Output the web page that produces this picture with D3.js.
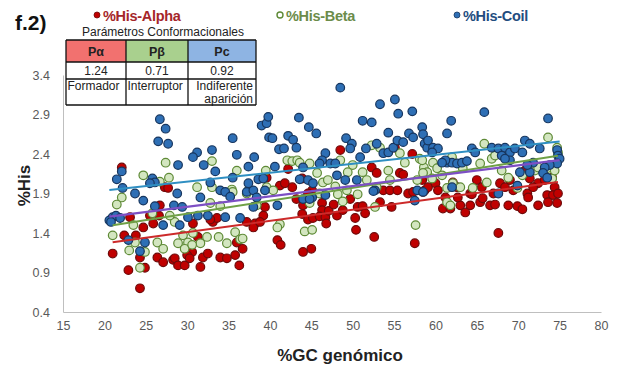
<!DOCTYPE html>
<html>
<head>
<meta charset="utf-8">
<script src="https://cdn.jsdelivr.net/npm/d3@7"></script>
<style>
  html, body { margin: 0; padding: 0; background: #fff; }
  svg { display: block; font-family: "Liberation Sans", Arial, sans-serif; }
</style>
</head>
<body>
<svg id="chart" width="622" height="370"></svg>
<script>
// Axis ticks
const xTicks = [15, 20, 25, 30, 35, 40, 45, 50, 55, 60, 65, 70, 75, 80];
const yTicks = [0.4, 0.9, 1.4, 1.9, 2.4, 2.9, 3.4];

// Legend / series names
const seriesNames = ["%His-Alpha", "%His-Beta", "%His-Coil"];

// Conformational parameter table
const tableHeaders = ["Pα", "Pβ", "Pc"];
const tableValues = ["1.24", "0.71", "0.92"];
const tableRoles = [["Formador"], ["Interruptor"], ["Indiferente", "aparición"]];

// [%GC genómico, %His] per organism
const alphaPoints = [
  [22.1,2.23],[27.3,1.98],[27.7,1.97],[21.0,1.14],[22.9,0.93],[24.3,0.70],[24.9,0.96],[22.4,1.37],
  [23.8,1.37],[24.7,1.47],[24.3,1.09],[26.4,1.09],[27.1,1.03],[28.3,1.06],[28.5,1.08],[28.9,0.99],
  [29.7,0.99],[31.6,0.97],[30.6,1.16],[30.0,1.12],[30.3,1.08],[31.9,1.09],[32.5,1.14],[34.0,1.09],
  [34.8,1.08],[35.8,1.12],[36.3,0.99],[36.7,1.20],[36.0,1.28],[31.3,1.35],[30.7,1.52],[33.1,1.54],
  [33.6,1.59],[32.8,1.57],[37.2,1.54],[38.2,1.52],[38.0,1.47],[39.2,1.62],[38.8,1.54],[26.7,1.75],
  [25.9,1.52],[25.5,1.62],[26.6,1.62],[23.1,1.60],[39.4,1.73],[43.2,1.83],[44.0,1.75],[43.9,1.64],
  [44.6,1.57],[45.2,1.59],[46.3,1.78],[46.3,1.69],[46.0,1.61],[46.7,1.60],[47.1,1.68],[47.7,1.76],
  [48.1,1.62],[48.8,1.69],[49.7,1.83],[50.3,1.59],[50.4,1.44],[50.6,1.73],[51.2,1.74],[51.5,1.65],
  [53.3,1.79],[54.7,1.73],[46.8,1.52],[44.0,1.16],[45.0,1.20],[40.9,1.31],[41.3,1.25],[52.6,1.35],
  [57.5,1.27],[53.7,1.94],[54.5,1.94],[55.4,1.94],[56.7,1.90],[57.3,1.92],[58.5,1.92],[48.5,2.45],
  [42.2,2.21],[39.6,2.10],[41.2,2.00],[42.7,1.98],[41.8,2.03],[43.9,2.09],[52.3,2.23],[52.9,2.16],
  [55.1,2.48],[57.2,2.40],[55.7,2.16],[56.1,2.14],[58.7,1.94],[45.1,1.94],[44.6,1.90],[58.4,2.07],
  [59.1,1.98],[60.0,2.03],[60.3,1.94],[62.1,2.04],[62.6,1.98],[65.0,2.07],[65.6,1.98],[67.8,2.03],
  [68.4,1.98],[69.0,2.07],[69.4,1.94],[70.8,2.19],[71.4,2.09],[72.4,2.03],[73.2,2.07],[74.1,2.10],
  [74.4,1.98],[73.5,1.88],[74.2,1.88],[74.8,1.90],[71.1,1.90],[67.0,1.90],[64.2,1.90],[61.2,1.85],
  [71.8,1.98],[60.9,1.71],[61.8,1.71],[63.6,1.66],[63.0,1.75],[64.2,1.75],[62.7,1.85],[64.4,1.89],
  [65.4,1.79],[65.7,1.84],[66.6,1.75],[67.2,1.76],[68.8,1.75],[69.9,1.74],[70.5,1.70],[71.2,1.85],
  [72.4,1.75],[73.6,1.79],[74.7,1.78],[67.6,1.40]
];

const betaPoints = [
  [27.4,2.29],[27.8,2.10],[26.7,2.05],[33.0,2.31],[36.0,2.19],[35.4,1.95],[31.2,1.98],[33.0,1.98],
  [37.4,1.94],[22.1,1.85],[21.5,1.76],[23.5,1.50],[21.0,1.37],[23.0,1.18],[24.3,0.96],[23.7,1.28],
  [24.9,1.16],[26.4,1.28],[27.1,1.20],[28.5,1.54],[27.9,1.62],[29.5,1.37],[30.1,1.28],[30.7,1.40],
  [31.6,1.27],[32.4,1.35],[28.9,1.27],[29.7,1.20],[30.6,1.25],[33.8,1.35],[34.8,1.27],[35.8,1.41],
  [36.4,1.32],[36.7,1.33],[32.8,1.78],[34.0,1.74],[35.5,1.92],[37.2,1.90],[38.4,1.75],[42.1,2.32],
  [42.7,2.31],[43.3,2.32],[43.6,2.29],[44.8,2.28],[48.5,2.32],[50.0,2.26],[39.5,2.19],[45.7,2.16],
  [49.4,2.17],[51.2,2.17],[54.3,2.19],[52.3,2.51],[53.3,2.48],[55.7,2.41],[56.3,2.29],[58.1,2.34],
  [58.6,2.23],[39.6,1.98],[40.4,1.94],[46.4,2.04],[47.0,2.07],[47.9,1.99],[49.3,1.94],[51.7,2.07],
  [54.5,2.07],[52.9,1.98],[57.8,2.07],[59.0,2.17],[41.2,1.51],[40.9,1.47],[44.2,1.42],[45.1,1.44],
  [48.2,1.89],[48.8,1.80],[50.6,1.89],[52.7,1.73],[57.6,1.50],[44.8,1.78],[46.0,1.90],[65.9,2.53],
  [73.6,2.61],[74.7,2.48],[74.8,2.42],[58.4,2.32],[59.7,2.29],[60.2,2.22],[62.0,2.36],[60.8,2.13],
  [59.6,2.09],[58.5,2.16],[63.3,2.22],[65.4,2.28],[66.8,2.34],[67.2,2.38],[68.0,2.19],[68.8,2.10],
  [70.5,2.13],[72.0,2.19],[72.4,2.23],[73.5,2.22],[74.1,2.09],[74.4,2.19],[64.5,1.97],[66.2,2.04],
  [62.1,2.03],[63.0,1.98],[61.4,1.97],[69.9,1.97],[61.4,1.79],[61.8,1.75],[24.7,2.13],[25.8,1.65]
];

const coilPoints = [
  [26.7,2.84],[27.4,2.72],[26.5,2.56],[27.7,2.53],[35.5,2.60],[31.2,2.42],[30.7,2.36],[33.0,2.45],
  [36.0,2.39],[38.1,2.36],[28.9,2.26],[32.0,2.26],[33.4,2.18],[37.4,2.24],[39.0,2.76],[39.6,2.79],
  [39.9,2.61],[22.1,2.18],[21.5,2.08],[22.2,1.97],[25.8,2.09],[26.1,2.04],[25.5,2.03],[28.8,1.90],
  [32.8,2.04],[34.0,1.94],[34.6,1.92],[35.5,2.10],[37.2,1.92],[38.0,1.94],[38.6,2.08],[39.2,2.09],
  [39.4,1.94],[37.4,2.03],[23.7,1.90],[21.0,1.60],[21.4,1.62],[20.6,1.56],[20.8,1.54],[21.9,1.59],
  [22.9,1.31],[24.3,1.17],[24.9,1.28],[26.1,1.74],[24.7,1.81],[28.4,1.75],[29.4,1.73],[29.1,1.50],
  [27.1,1.50],[30.1,1.60],[31.6,1.85],[31.3,1.62],[32.5,1.62],[34.6,1.60],[35.2,1.86],[36.4,1.59],
  [38.0,1.73],[38.4,1.85],
  [48.5,3.24],[39.8,2.87],[43.5,2.86],[44.7,2.74],[45.6,2.66],[53.3,3.03],[55.1,3.09],[55.5,2.91],
  [57.2,2.94],[51.2,2.82],[52.3,2.80],[54.3,2.67],[56.8,2.66],[58.4,2.74],[58.5,2.65],[40.3,2.60],
  [42.2,2.63],[42.8,2.58],[43.2,2.48],[41.1,2.46],[41.7,2.47],[49.2,2.60],[49.9,2.53],[49.7,2.47],
  [51.6,2.47],[52.9,2.53],[50.9,2.36],[46.7,2.41],[46.3,2.32],[47.3,2.28],[47.9,2.28],[46.0,2.28],
  [53.7,2.41],[54.3,2.42],[54.9,2.48],[55.4,2.57],[56.1,2.55],[57.3,2.61],[58.7,2.53],[59.0,2.48],
  [44.0,2.23],[40.6,2.24],[43.6,2.08],[44.6,2.07],[45.2,2.03],[48.1,2.13],[49.1,2.07],[50.5,2.07],
  [52.7,1.94],[45.1,1.85],[57.8,1.94],[58.5,1.92],[65.9,2.93],[73.6,2.85],[61.9,2.82],[61.4,2.66],
  [59.1,2.57],[59.7,2.48],[60.3,2.47],[59.6,2.42],[64.4,2.47],[64.8,2.42],[66.8,2.48],[67.6,2.47],
  [68.4,2.48],[69.0,2.42],[68.0,2.38],[69.6,2.47],[70.5,2.42],[70.8,2.57],[71.4,2.53],[72.6,2.47],
  [74.7,2.45],[74.8,2.38],[75.0,2.34],[74.7,2.28],[73.8,2.26],[73.2,2.23],[73.0,2.16],[73.5,2.10],
  [71.8,2.29],[71.4,2.17],[71.1,2.26],[69.0,2.32],[68.4,2.34],[61.4,2.29],[62.0,2.29],[62.6,2.28],
  [63.2,2.29],[63.8,2.31],[61.2,2.32],[60.8,2.29],[70.2,2.17],[69.9,2.00],[62.0,1.98],[67.6,1.90],
  [40.9,1.75],[44.0,1.83],[44.8,1.83],[46.7,1.88],[52.5,1.93],[57.5,1.81]
];

const svg = d3.select("#chart");
const W = 622, H = 370;
const margin = { left: 63, right: 21, top: 75, bottom: 58 };

const x = d3.scaleLinear().domain([15, 80]).range([margin.left, W - margin.right]);
const y = d3.scaleLinear().domain([0.4, 3.4]).range([H - margin.bottom, margin.top]);

const axisGray = "#bfbfbf";
const tickText = "#595959";

// X axis
const xAxis = svg.append("g")
  .attr("transform", `translate(0,${y(0.4)})`)
  .call(d3.axisBottom(x).tickValues(xTicks).tickSize(0).tickPadding(9).tickFormat(d3.format("d")));
xAxis.select(".domain").attr("stroke", axisGray).attr("stroke-width", 1);
xAxis.selectAll("text").attr("fill", tickText).attr("font-size", 12.5)
  .attr("font-family", "Liberation Sans, Arial, sans-serif");

// Y axis
const yAxis = svg.append("g")
  .attr("transform", `translate(${x(15)},0)`)
  .call(d3.axisLeft(y).tickValues(yTicks).tickSize(0).tickPadding(13).tickFormat(d3.format(".1f")));
yAxis.select(".domain").attr("stroke", axisGray).attr("stroke-width", 1);
yAxis.selectAll("text").attr("fill", tickText).attr("font-size", 12.5)
  .attr("font-family", "Liberation Sans, Arial, sans-serif");

// Axis titles
svg.append("text")
  .attr("x", 340).attr("y", 361)
  .attr("text-anchor", "middle")
  .attr("font-size", 17).attr("font-weight", "bold").attr("fill", "#222")
  .text("%GC genómico");

svg.append("text")
  .attr("transform", `translate(30,${y(1.9) - 8}) rotate(-90)`)
  .attr("text-anchor", "middle")
  .attr("font-size", 17).attr("font-weight", "bold").attr("fill", "#222")
  .text("%His");

// Series styling
const series = [
  { name: seriesNames[0], data: alphaPoints, fill: "#c00000", stroke: "#6e0a0a", text: "#a5262a", line: "#cc2a2a" },
  { name: seriesNames[1], data: betaPoints,  fill: "#d3e6c0", stroke: "#5e8a36", text: "#6c8c4a", line: "#6fa046" },
  { name: seriesNames[2], data: coilPoints,  fill: "#2e6fb5", stroke: "#17365f", text: "#234d7f", line: "#2f8fc2" }
];

// Points
series.forEach(s => {
  svg.append("g").selectAll("circle")
    .data(s.data)
    .join("circle")
    .attr("cx", d => x(d[0]))
    .attr("cy", d => y(d[1]))
    .attr("r", 4.3)
    .attr("fill", s.fill)
    .attr("stroke", s.stroke)
    .attr("stroke-width", 1.2);
});

// Least-squares linear trend over a set of points
function linearFit(pts) {
  const mx = d3.mean(pts, d => d[0]);
  const my = d3.mean(pts, d => d[1]);
  let sxy = 0, sxx = 0;
  pts.forEach(d => { sxy += (d[0] - mx) * (d[1] - my); sxx += (d[0] - mx) ** 2; });
  const b = sxy / sxx;
  const a = my - b * mx;
  const ext = d3.extent(pts, d => d[0]);
  return [[ext[0], a + b * ext[0]], [ext[1], a + b * ext[1]]];
}

const lineGen = d3.line().x(d => x(d[0])).y(d => y(d[1]));

// Trend per series, plus the pooled trend over all points
series.forEach(s => {
  svg.append("path")
    .attr("d", lineGen(linearFit(s.data)))
    .attr("stroke", s.line).attr("stroke-width", 2).attr("fill", "none");
});
const allPoints = alphaPoints.concat(betaPoints, coilPoints);
svg.append("path")
  .attr("d", lineGen(linearFit(allPoints)))
  .attr("stroke", "#7d4fc4").attr("stroke-width", 2.2).attr("fill", "none");

// Panel tag
svg.append("text")
  .attr("x", 15).attr("y", 30)
  .attr("font-size", 21).attr("font-weight", "bold").attr("fill", "#111")
  .text("f.2)");

// Legend
const legendX = [97, 280, 457];
series.forEach((s, i) => {
  const g = svg.append("g").attr("transform", `translate(${legendX[i]},15)`);
  g.append("circle").attr("cx", 0).attr("cy", 0).attr("r", 3)
    .attr("fill", i === 1 ? "#ffffff" : s.fill)
    .attr("stroke", s.stroke).attr("stroke-width", i === 1 ? 1.4 : 0.8);
  g.append("text").attr("x", 6).attr("y", 5.5)
    .attr("font-size", 14.5).attr("font-weight", "bold").attr("fill", s.text)
    .attr("letter-spacing", -0.3)
    .text(s.name);
});

// Conformational parameters table
svg.append("text")
  .attr("x", 163).attr("y", 36)
  .attr("text-anchor", "middle")
  .attr("font-size", 12).attr("fill", "#222")
  .text("Parámetros Conformacionales");

const colEdges = [66, 126, 188, 256];
const rowEdges = [40, 62, 79, 105];
const headerFill = ["#f2716f", "#a9d08e", "#8eb4e3"];
const table = svg.append("g");

tableHeaders.forEach((h, i) => {
  const x0 = colEdges[i], x1 = colEdges[i + 1];
  table.append("rect").attr("x", x0).attr("y", rowEdges[0])
    .attr("width", x1 - x0).attr("height", rowEdges[1] - rowEdges[0])
    .attr("fill", headerFill[i]);
  table.append("text").attr("x", (x0 + x1) / 2).attr("y", 56)
    .attr("text-anchor", "middle").attr("font-size", 12.5).attr("font-weight", "bold").attr("fill", "#222")
    .text(h);
  table.append("text").attr("x", (x0 + x1) / 2).attr("y", 75)
    .attr("text-anchor", "middle").attr("font-size", 12).attr("fill", "#222")
    .text(tableValues[i]);
  tableRoles[i].forEach((t, j) => {
    const rightAlign = tableRoles[i].length > 1;
    table.append("text")
      .attr("x", rightAlign ? x1 - 3 : x0 + 1.5)
      .attr("y", 90 + j * 12.5)
      .attr("text-anchor", rightAlign ? "end" : "start")
      .attr("font-size", 12).attr("fill", "#222")
      .text(t);
  });
});

// Grid lines of the table
colEdges.forEach(cx => {
  table.append("line").attr("x1", cx).attr("x2", cx).attr("y1", rowEdges[0]).attr("y2", rowEdges[3])
    .attr("stroke", "#111").attr("stroke-width", 1.3);
});
rowEdges.forEach(ry => {
  table.append("line").attr("x1", colEdges[0]).attr("x2", colEdges[3]).attr("y1", ry).attr("y2", ry)
    .attr("stroke", "#111").attr("stroke-width", 1.3);
});
</script>
</body>
</html>
